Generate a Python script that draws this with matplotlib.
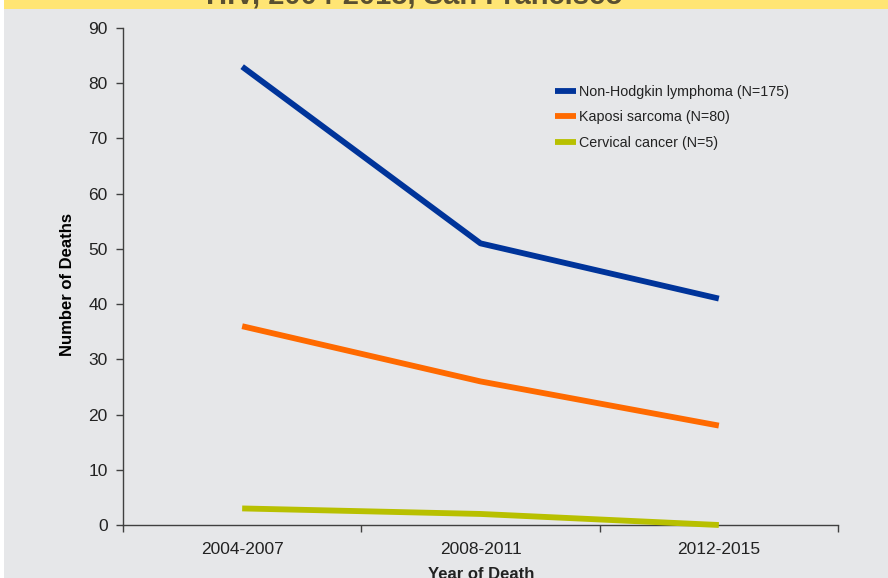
import numpy as np
import matplotlib.pyplot as plt
from matplotlib.patches import Rectangle

plt.rcParams['font.family'] = ['Liberation Sans', 'DejaVu Sans']

# deaths per period, by cancer type
periods = ['2004-2007', '2008-2011', '2012-2015']
nhl_deaths = [83, 51, 41]
kaposi_deaths = [36, 26, 18]
cervical_deaths = [3, 2, 0]
series_labels = ['Non-Hodgkin lymphoma (N=175)', 'Kaposi sarcoma (N=80)', 'Cervical cancer (N=5)']
series_colors = ['#00349A', '#FF6A00', '#B8C000']
title_text = 'HIV, 2004-2015, San Francisco'

W, H = 888, 578
bg = '#E6E7E9'
fig = plt.figure(figsize=(W / 100, H / 100), dpi=100, facecolor=bg)

# white strip on the left and the yellow title banner
fig.patches.append(Rectangle((0, 0), 4 / W, 1, transform=fig.transFigure, facecolor='white', edgecolor='none', zorder=0))
fig.patches.append(Rectangle((4 / W, 1 - 9 / H), 1, 9 / H, transform=fig.transFigure, facecolor='#FFE574', edgecolor='none', zorder=0))
fig.text(414 / W, 1 - 4 / H, title_text, ha='center', va='baseline', fontsize=21, fontweight='bold', color='#5A5030')

ax = fig.add_axes([123 / W, (H - 525) / H, (838 - 123) / W, (525 - 28) / H])
ax.set_facecolor(bg)

x = np.arange(len(periods))
for vals, lab, col in zip([nhl_deaths, kaposi_deaths, cervical_deaths], series_labels, series_colors):
    ax.plot(x, vals, color=col, lw=4.2, label=lab, solid_capstyle='butt', clip_on=False, zorder=3)

ax.set_xlim(-0.5, 2.5)
ax.set_ylim(0, 90)
ax.set_yticks(range(0, 91, 10))
ax.set_xticks(x)
ax.set_xticklabels(periods)
ax.set_xticks([-0.5, 0.5, 1.5, 2.5], minor=True)
ax.tick_params(axis='x', which='major', length=0, pad=12, labelsize=12.5, labelcolor='#222222')
ax.tick_params(axis='x', which='minor', length=5, direction='out', color='#404040', width=1)
ax.tick_params(axis='y', length=5, direction='out', color='#404040', width=1, pad=6, labelsize=12.5, labelcolor='#222222')

for side in ['top', 'right']:
    ax.spines[side].set_visible(False)
for side in ['left', 'bottom']:
    ax.spines[side].set_color('#404040')
    ax.spines[side].set_linewidth(1)

ax.set_ylabel('Number of Deaths', fontsize=12, fontweight='bold')
ax.yaxis.set_label_coords(-(123 - 75) / 715, (525 - 285) / 497)
fig.text(481 / W, 1 - 567 / H, 'Year of Death', ha='center', va='top', fontsize=12, fontweight='bold', color='#222222')

leg = ax.legend(loc='upper left', bbox_to_anchor=(426 / 715, 1 - 51 / 497), frameon=False,
                fontsize=10.3, handlelength=1.5, handletextpad=0.2, labelspacing=0.8, borderaxespad=0)
for t in leg.get_texts():
    t.set_color('#222222')

fig.savefig('out.png', dpi=100, facecolor=bg)
